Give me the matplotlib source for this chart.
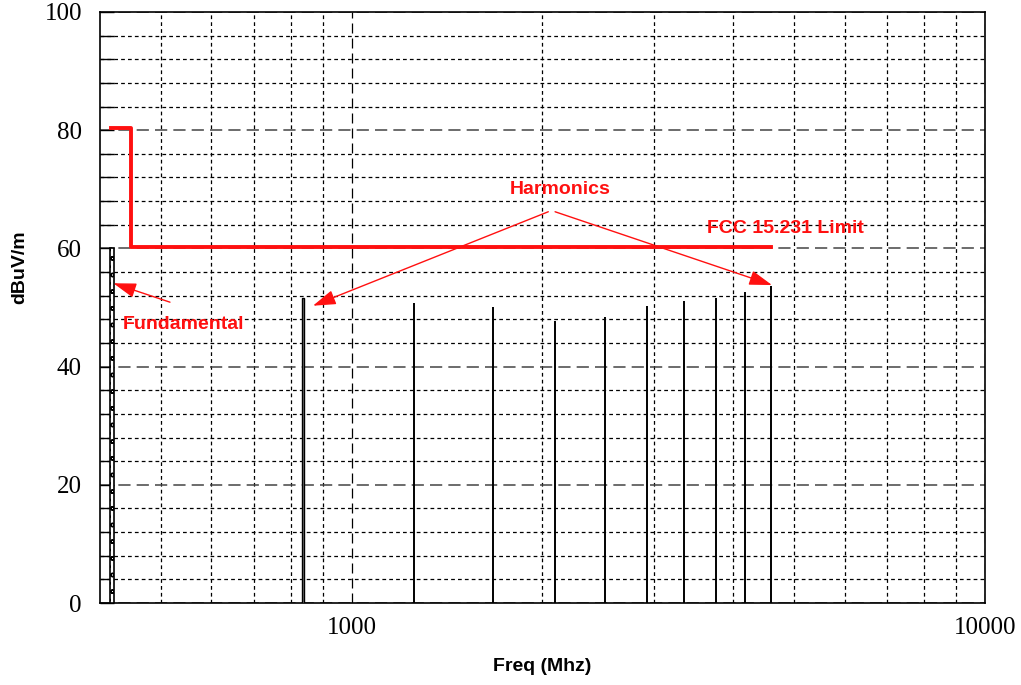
import numpy as np
import matplotlib.pyplot as plt
from matplotlib.ticker import FixedLocator, NullFormatter

# fundamental and harmonics (MHz, dBuV/m)
fund_freq = 418
fund_level = 60.0
harm_freq = [836, 1254, 1672, 2090, 2508, 2926, 3344, 3762, 4180, 4598]
harm_level = [51.6, 50.8, 50.1, 47.7, 48.4, 50.3, 51.1, 51.6, 52.6, 53.6]

# FCC 15.231 limit line
limit_freq = [416, 448, 448, 4600]
limit_level = [80.3, 80.3, 60.3, 60.3]

plt.rcParams['font.family'] = 'Liberation Serif'
fig = plt.figure(figsize=(10.21, 6.85), dpi=100)
ax = fig.add_axes([0.0979, 0.1197, 0.8668, 0.8628])

ax.set_xscale('log')
ax.set_xlim(400, 10000)
ax.set_ylim(0, 100)

# grid
ax.set_yticks([0, 20, 40, 60, 80, 100])
ax.yaxis.set_minor_locator(FixedLocator([v for v in range(4, 100, 4) if v % 20 != 0]))
ax.set_xticks([1000, 10000])
ax.set_xticklabels(['1000', '10000'])
minor_x = [500, 600, 700, 800, 900] + list(range(2000, 10000, 1000))
ax.xaxis.set_minor_locator(FixedLocator(minor_x))
ax.xaxis.set_minor_formatter(NullFormatter())

ax.grid(True, which='major', axis='y', color='#444444', linestyle=(0, (8, 4)), linewidth=1.1)
ax.grid(True, which='minor', axis='y', color='black', linestyle=(0, (3, 2.5)), linewidth=0.9)
ax.grid(True, which='major', axis='x', color='black', linestyle=(0, (8, 4)), linewidth=0.9)
ax.grid(True, which='minor', axis='x', color='black', linestyle=(0, (3, 2.5)), linewidth=0.9)

ax.tick_params(axis='both', which='both', direction='in', labelsize=18)
ax.tick_params(axis='y', which='both', length=10, width=1.0, right=False)
ax.tick_params(axis='x', which='both', length=0, pad=10)
ax.tick_params(axis='y', which='major', pad=13)
for s in ax.spines.values():
    s.set_linewidth(1.2)

# fundamental
ax.bar(fund_freq, fund_level, width=7, color='white', edgecolor='black',
       hatch='oo', linewidth=1.2, zorder=3)

# harmonics
ax.vlines(harm_freq, 0, harm_level, color='black', linewidth=1.4, zorder=3)
ax.bar(harm_freq[0], harm_level[0], width=6, color='#888888', edgecolor='black',
       linewidth=1.0, zorder=3)

# limit
ax.plot(limit_freq, limit_level, color='#ff1010', linewidth=2.8, zorder=4)

red = '#ff1010'
sans = 'Liberation Sans'
ax.text(3640, 63.3, 'FCC 15.231 Limit', color=red, fontsize=14, fontweight='bold',
        family=sans, ha='left', va='center')
ax.text(2132, 70.0, 'Harmonics', color=red, fontsize=14, fontweight='bold',
        family=sans, ha='center', va='center')
ax.text(435, 47.2, 'Fundamental', color=red, fontsize=14, fontweight='bold',
        family=sans, ha='left', va='center')

arrow = dict(arrowstyle='-|>,head_length=1.4,head_width=0.45', color=red, lw=1.0,
             shrinkA=0, shrinkB=0)
ax.annotate('', xy=(868, 50.3), xytext=(2043, 66.2), arrowprops=arrow, zorder=5)
ax.annotate('', xy=(4609, 53.8), xytext=(2094, 66.2), arrowprops=arrow, zorder=5)
ax.annotate('', xy=(420, 54.1), xytext=(516, 50.9), arrowprops=arrow, zorder=5)

ax.set_xlabel('Freq (Mhz)', family=sans, fontweight='bold', fontsize=14, labelpad=14)
ax.set_ylabel('dBuV/m', family=sans, fontweight='bold', fontsize=14)
ax.yaxis.set_label_coords(-0.081, 0.569)

fig.savefig('out.png', dpi=100)
